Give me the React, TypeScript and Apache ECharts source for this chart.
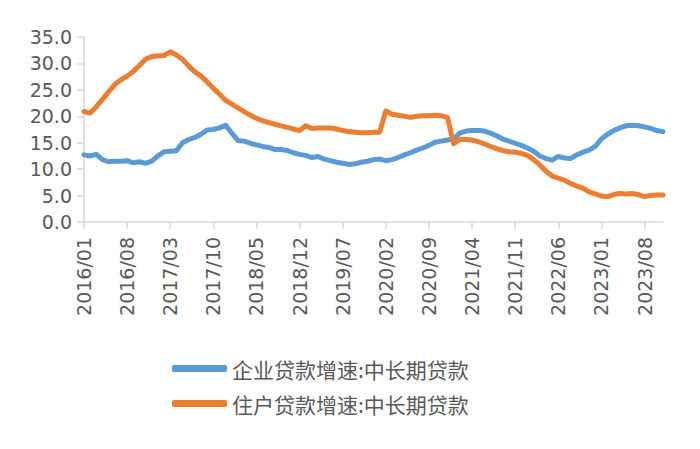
import React, { useEffect, useRef } from "react";
import * as echarts from "echarts";

const startYear = 2016;
const monthCount = 95; // 2016/01 .. 2023/11
const categories: string[] = [];
for (let i = 0; i < monthCount; i++) {
  const y = startYear + Math.floor(i / 12);
  const m = (i % 12) + 1;
  categories.push(`${y}/${m < 10 ? "0" + m : m}`);
}

const seriesNames = ["企业贷款增速:中长期贷款", "住户贷款增速:中长期贷款"];

const enterpriseLoans = [
  12.7, 12.5, 12.8, 11.8, 11.4, 11.5, 11.5, 11.6, 11.2, 11.4, 11.1, 11.5,
  12.5, 13.3, 13.4, 13.5, 15.0, 15.6, 16.0, 16.6, 17.4, 17.5, 17.8, 18.3,
  16.8, 15.4, 15.3, 14.9, 14.6, 14.3, 14.1, 13.7, 13.7, 13.5, 13.1, 12.8,
  12.6, 12.2, 12.4, 11.9, 11.6, 11.3, 11.1, 10.9, 11.0, 11.3, 11.5, 11.8,
  11.9, 11.6, 11.8, 12.2, 12.7, 13.1, 13.6, 14.0, 14.5, 15.1, 15.3, 15.5,
  15.7, 16.8, 17.2, 17.3, 17.3, 17.2, 16.8, 16.3, 15.7, 15.3, 14.9, 14.5,
  14.0, 13.4, 12.5, 12.0, 11.7, 12.4, 12.1, 12.0, 12.7, 13.2, 13.6, 14.3,
  15.7, 16.6, 17.3, 17.8, 18.2, 18.3, 18.2, 18.0, 17.7, 17.3, 17.1,
];

const householdLoans = [
  20.9, 20.6, 21.8, 23.2, 24.6, 26.0, 26.9, 27.6, 28.5, 29.6, 30.8, 31.3,
  31.4, 31.5, 32.2, 31.6, 30.8, 29.5, 28.4, 27.6, 26.5, 25.3, 24.2, 23.0,
  22.3, 21.6, 20.9, 20.2, 19.6, 19.2, 18.8, 18.5, 18.2, 17.9, 17.6, 17.3,
  18.2, 17.7, 17.8, 17.8, 17.8, 17.6, 17.3, 17.1, 17.0, 16.9, 16.9, 17.0,
  17.0, 21.0, 20.4, 20.2, 20.0, 19.8, 20.0, 20.1, 20.1, 20.2, 20.1, 19.8,
  14.8, 15.6, 15.6, 15.5, 15.2, 14.8, 14.3, 13.9, 13.5, 13.3, 13.2, 13.0,
  12.6, 11.8, 10.8, 9.6, 8.7, 8.3, 7.9, 7.3, 6.8, 6.4, 5.7, 5.3,
  4.9, 4.8, 5.2, 5.4, 5.3, 5.4, 5.2, 4.8, 5.0, 5.1, 5.1,
];

const seriesColors = ["#5B9BD5", "#ED7D31"];

export default function App() {
  const ref = useRef<HTMLDivElement>(null);

  useEffect(() => {
    if (!ref.current) return;
    const chart = echarts.init(ref.current, undefined, { renderer: "svg" });
    const axisColor = "#D9D9D9";
    const textColor = "#595959";
    const font = "DejaVu Sans";
    chart.setOption({
      animation: false,
      backgroundColor: "#ffffff",
      grid: { left: 84, right: 37, top: 37, bottom: 227, containLabel: false },
      xAxis: {
        type: "category",
        data: categories,
        boundaryGap: false,
        axisLine: { lineStyle: { color: axisColor, width: 1.5 } },
        axisTick: { show: true, interval: 6, length: 7, lineStyle: { color: axisColor, width: 1.5 } },
        axisLabel: {
          interval: 6,
          rotate: 90,
          margin: 15,
          color: textColor,
          fontFamily: font,
          fontSize: 19,
        },
        splitLine: { show: false },
      },
      yAxis: {
        type: "value",
        min: 0,
        max: 35,
        interval: 5,
        axisLine: { show: true, lineStyle: { color: axisColor, width: 1.5 } },
        axisTick: { show: true, length: 7, lineStyle: { color: axisColor, width: 1.5 } },
        axisLabel: {
          margin: 12,
          color: textColor,
          fontFamily: font,
          fontSize: 19,
          formatter: (v: number) => v.toFixed(1),
        },
        splitLine: { show: false },
      },
      legend: {
        orient: "vertical",
        left: 172,
        top: 357,
        padding: 0,
        itemWidth: 55,
        itemHeight: 7,
        itemGap: 12,
        icon: "roundRect",
        textStyle: {
          color: textColor,
          fontFamily: "Noto Sans CJK SC",
          fontSize: 21,
          lineHeight: 23,
        },
        data: seriesNames,
      },
      series: [
        {
          name: seriesNames[0],
          type: "line",
          data: enterpriseLoans,
          symbol: "none",
          color: seriesColors[0],
          lineStyle: { width: 5, color: seriesColors[0], cap: "round", join: "round" },
        },
        {
          name: seriesNames[1],
          type: "line",
          data: householdLoans,
          symbol: "none",
          color: seriesColors[1],
          lineStyle: { width: 5, color: seriesColors[1], cap: "round", join: "round" },
        },
      ],
    });
    return () => chart.dispose();
  }, []);

  return (
    <div
      ref={ref}
      style={{ position: "fixed", left: 0, top: 0, width: 700, height: 449, background: "#fff" }}
    />
  );
}
